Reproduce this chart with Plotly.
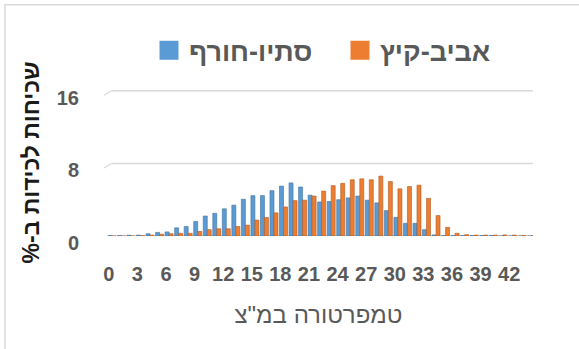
import plotly.graph_objects as go

# Capture frequency (%) by temperature (°C), per season
temps = list(range(0, 45))

autumn_winter = [0.05, 0.05, 0.08, 0.1, 0.25, 0.4, 0.45, 0.9, 1.05, 1.6,
                 2.2, 2.5, 3.0, 3.4, 4.05, 4.45, 4.45, 5.0, 5.5, 5.85,
                 5.4, 4.5, 3.75, 3.8, 4.0, 4.2, 4.4, 3.95, 3.65, 2.8,
                 2.05, 1.4, 1.4, 0.7, 0.12, 0.05, 0.05, 0.05, 0.05, 0.05,
                 0.05, 0, 0, 0, 0]

spring_summer = [0, 0, 0, 0.05, 0.1, 0.2, 0.25, 0.3, 0.3, 0.5,
                 0.7, 0.8, 0.8, 1.05, 1.2, 1.75, 2.05, 2.55, 3.2, 3.9,
                 3.95, 4.4, 4.95, 5.55, 5.8, 6.2, 6.3, 6.2, 6.6, 6.0,
                 5.2, 5.45, 5.6, 4.15, 2.25, 0.95, 0.3, 0.15, 0.1, 0.1,
                 0.1, 0.12, 0.1, 0.06, 0.05]

x_ticks = list(range(0, 43, 3))
y_ticks = [0, 8, 16]

RLM = "\u200f"
name_aw = "סתיו-חורף"
name_ss = "אביב-קיץ"
y_title = "שכיחות לכידות ב-%" + RLM
x_title = "טמפרטורה במ\"צ"

BLUE = "#5b9bd5"
BLUE_EDGE = "#41719c"
ORANGE = "#ed7d31"
ORANGE_EDGE = "#ae5a21"
GRAY = "#595959"
GRID = "#d9d9d9"
FONT = "Liberation Sans"

W, H = 579, 349
Y_MAX = 16.2
ML, MR, MB = 104, 46, 113
px_per_unit = 145 / 16
ph = Y_MAX * px_per_unit
MT = H - MB - ph
pw = W - ML - MR

fig = go.Figure()

fig.add_trace(go.Bar(x=temps, y=autumn_winter, width=0.42, offset=-0.09,
                     marker=dict(color=BLUE, line=dict(width=0.6, color=BLUE_EDGE)),
                     name=name_aw, legendgroup="aw", showlegend=False))
fig.add_trace(go.Bar(x=temps, y=spring_summer, width=0.42, offset=0.33,
                     marker=dict(color=ORANGE, line=dict(width=0.6, color=ORANGE_EDGE)),
                     name=name_ss, legendgroup="ss", showlegend=False))

# legend entries with larger square swatches
for nm, grp, col in [(name_aw, "aw", BLUE), (name_ss, "ss", ORANGE)]:
    fig.add_trace(go.Scatter(x=[None], y=[None], mode="markers", name=nm,
                             legendgroup=grp,
                             marker=dict(symbol="square", size=16, color=col,
                                         line=dict(width=3, color=col))))

# horizontal gridlines with a short perspective slant on the left wall
slant_w = 7.5 / pw
slant_h = 4.5 / px_per_unit
for v in y_ticks:
    fig.add_shape(type="line", xref="paper", yref="y",
                  x0=slant_w, x1=1, y0=v, y1=v,
                  line=dict(color=GRID, width=1.5), layer="below")
    fig.add_shape(type="line", xref="paper", yref="y",
                  x0=0, x1=slant_w, y0=v - slant_h, y1=v,
                  line=dict(color=GRID, width=1.2), layer="below")

# outer chart frame
fig.add_shape(type="rect", xref="paper", yref="paper",
              x0=(5 - ML) / pw, x1=(W + 40 - ML) / pw,
              y0=(MT + ph - (H + 40)) / ph, y1=(MT + ph - 5) / ph,
              line=dict(color=GRID, width=1.5), fillcolor="rgba(0,0,0,0)",
              layer="below")

fig.update_layout(
    width=W, height=H,
    margin=dict(l=ML, r=MR, t=MT, b=MB, pad=0),
    paper_bgcolor="white", plot_bgcolor="white",
    barmode="overlay",
    font=dict(family=FONT, color=GRAY),
    showlegend=True,
    legend=dict(orientation="h", x=(149 - ML) / pw, xanchor="left",
                y=(MT + ph - 51) / ph, yanchor="middle",
                entrywidth=146,
                font=dict(size=27, color=GRAY, family=FONT, weight="bold"),
                itemsizing="trace", bgcolor="rgba(0,0,0,0)",
                itemclick=False, itemdoubleclick=False),
    xaxis=dict(range=[-0.5, 44.5], tickmode="array", tickvals=x_ticks,
               ticktext=[str(v) for v in x_ticks], showgrid=False,
               zeroline=False, showline=False, ticks="",
               ticklabelstandoff=24,
               tickfont=dict(size=20, color=GRAY, family=FONT, weight="bold"),
               title=dict(text=x_title, standoff=22,
                          font=dict(size=24, color=GRAY, family=FONT))),
    yaxis=dict(range=[0, Y_MAX], tickmode="array", tickvals=y_ticks,
               showgrid=False, zeroline=False, showline=False, ticks="",
               ticklabelstandoff=24, ticklabelshift=7,
               tickfont=dict(size=20, color=GRAY, family=FONT, weight="bold"),
               title=dict(text=y_title, standoff=10,
                          font=dict(size=23, color="#1a1a1a", family=FONT,
                                    weight="bold"))),
)

fig.write_html("out.html")
